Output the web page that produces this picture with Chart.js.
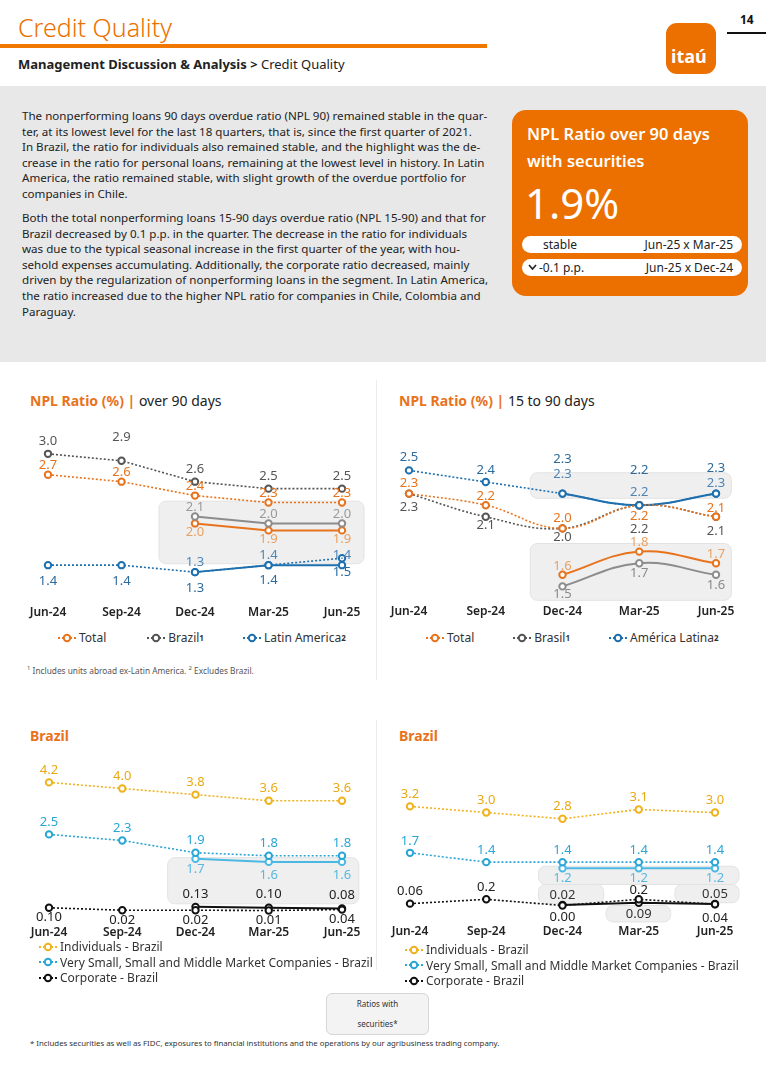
<!DOCTYPE html>
<html>
<head>
<meta charset="utf-8">
<script src="https://cdn.jsdelivr.net/npm/chart.js@4.4.1/dist/chart.umd.min.js"></script>
<style>
  body { margin: 0; width: 766px; height: 1083px; position: relative; background: #fff; font-family: "Noto Sans", sans-serif; overflow: hidden; color: #222; }
  .abs { position: absolute; white-space: nowrap; }
  canvas.chart { position: absolute; }
  .band { position: absolute; left: 0; top: 86px; width: 766px; height: 276px; background: #e8e8e8; }
  .para { position: absolute; left: 22px; font-size: 11.6px; line-height: 15.6px; color: #222; white-space: nowrap; }
  .kpi { position: absolute; left: 512px; top: 110px; width: 236px; height: 186px; background: #ec7000; border-radius: 14px; color: #fff; }
  .pill { position: absolute; left: 10px; width: 220px; height: 17px; background: #fff; border-radius: 9px; color: #222; font-size: 12px; line-height: 17px; }
  .ctitle { position: absolute; font-size: 14px; white-space: nowrap; }
  .ctitle b { color: #e8731d; font-weight: 700; }
  .legend { position: absolute; font-size: 12px; color: #333; white-space: nowrap; }
  .legend span { display: inline-flex; align-items: center; }
  .legend svg { margin-right: 2px; }
  .legend sup { font-size: 8px; font-weight: 700; vertical-align: 4px; }
  .vsep { position: absolute; left: 376px; width: 1px; background: #ececec; }
</style>
</head>
<body>
<!-- header -->
<div class="abs" style="left:18px;top:10px;font-size:25px;font-weight:300;color:#ec7000;">Credit Quality</div>
<div class="abs" style="left:0;top:44px;width:487px;height:4px;background:#f07800;"></div>
<div class="abs" style="left:18px;top:55px;font-size:13px;color:#222;"><b>Management Discussion &amp; Analysis &gt;</b> Credit Quality</div>
<div class="abs" style="left:666px;top:23px;width:50px;height:51px;background:#ec7000;border-radius:11px;"></div>
<div class="abs" style="left:671px;top:44px;font-size:18px;font-weight:700;color:#fff;">itaú</div>
<div class="abs" style="left:740px;top:11px;font-size:12px;font-weight:700;color:#111;">14</div>
<div class="abs" style="left:727px;top:32px;width:39px;height:2px;background:#111;"></div>

<!-- text band -->
<div class="band"></div>
<div class="para" style="top:108px;">The nonperforming loans 90 days overdue ratio (NPL 90) remained stable in the quar-<br>ter, at its lowest level for the last 18 quarters, that is, since the first quarter of 2021.<br>In Brazil, the ratio for individuals also remained stable, and the highlight was the de-<br>crease in the ratio for personal loans, remaining at the lowest level in history. In Latin<br>America, the ratio remained stable, with slight growth of the overdue portfolio for<br>companies in Chile.</div>
<div class="para" style="top:210px;">Both the total nonperforming loans 15-90 days overdue ratio (NPL 15-90) and that for<br>Brazil decreased by 0.1 p.p. in the quarter. The decrease in the ratio for individuals<br>was due to the typical seasonal increase in the first quarter of the year, with hou-<br>sehold expenses accumulating. Additionally, the corporate ratio decreased, mainly<br>driven by the regularization of nonperforming loans in the segment. In Latin America,<br>the ratio increased due to the higher NPL ratio for companies in Chile, Colombia and<br>Paraguay.</div>

<div class="kpi">
  <div class="abs" style="left:15px;top:10px;font-size:16.5px;font-weight:600;line-height:27px;">NPL Ratio over 90 days<br>with securities</div>
  <div class="abs" style="left:13px;top:64px;font-size:42px;font-weight:400;">1.9%</div>
  <div class="pill" style="top:126px;"><span class="abs" style="left:21px;">stable</span><span class="abs" style="right:9px;">Jun-25 x Mar-25</span></div>
  <div class="pill" style="top:149px;"><svg class="abs" style="left:6px;top:5px;" width="9" height="7"><polyline points="1,1 4.5,5 8,1" fill="none" stroke="#222" stroke-width="1.6"/></svg><span class="abs" style="left:17px;">-0.1 p.p.</span><span class="abs" style="right:9px;">Jun-25 x Dec-24</span></div>
</div>

<!-- chart titles -->
<div class="ctitle" style="left:30px;top:391px;"><b>NPL Ratio (%) |</b> over 90 days</div>
<div class="ctitle" style="left:399px;top:391px;"><b>NPL Ratio (%) |</b> 15 to 90 days</div>
<div class="ctitle" style="left:30px;top:726px;"><b>Brazil</b></div>
<div class="ctitle" style="left:399px;top:726px;"><b>Brazil</b></div>
<div class="vsep" style="top:380px;height:300px;"></div>
<div class="vsep" style="top:720px;height:250px;"></div>

<canvas class="chart" id="c90" width="383" height="205" style="left:0;top:420px;"></canvas>
<canvas class="chart" id="c15" width="383" height="206" style="left:383px;top:418px;"></canvas>
<canvas class="chart" id="b90" width="383" height="190" style="left:0;top:755px;"></canvas>
<canvas class="chart" id="b15" width="383" height="187" style="left:383px;top:757px;"></canvas>

<div class="legend" id="lg90" style="left:57px;top:629px;"></div>
<div class="legend" id="lg15" style="left:425px;top:629px;"></div>
<div class="legend" id="lgb90" style="left:38px;top:939px;line-height:15px;"></div>
<div class="legend" id="lgb15" style="left:404px;top:942px;line-height:15px;"></div>

<div class="abs" style="left:27px;top:664px;font-size:8.3px;color:#555;"><sup style="font-size:6px;">1</sup> Includes units abroad ex-Latin America. <sup style="font-size:6px;">2</sup> Excludes Brazil.</div>

<div class="abs" style="left:326px;top:993px;width:101px;height:40px;border:1px solid #d6d6d6;border-radius:6px;background:#f3f3f3;font-size:8px;text-align:center;line-height:20px;color:#333;">Ratios with<br>securities*</div>
<div class="abs" style="left:30px;top:1038px;font-size:7.8px;color:#333;">* Includes securities as well as FIDC, exposures to financial institutions and the operations by our agribusiness trading company.</div>

<script>
// categories
var quarters = ["Jun-24", "Sep-24", "Dec-24", "Mar-25", "Jun-25"];

// NPL ratio over 90 days (%)
var npl90Total = [2.7, 2.6, 2.4, 2.3, 2.3];
var npl90Brazil = [3.0, 2.9, 2.6, 2.5, 2.5];
var npl90Latam = [1.4, 1.4, 1.3, 1.4, 1.5];
var npl90TotalSec = [null, null, 2.0, 1.9, 1.9];
var npl90BrazilSec = [null, null, 2.1, 2.0, 2.0];
var npl90LatamSec = [null, null, 1.3, 1.4, 1.4];

// NPL ratio 15 to 90 days (%)
var npl15Total = [2.3, 2.2, 2.0, 2.2, 2.1];
var npl15Brasil = [2.3, 2.1, 2.0, 2.2, 2.1];
var npl15Latam = [2.5, 2.4, 2.3, 2.2, 2.3];
var npl15TotalSec = [null, null, 1.6, 1.8, 1.7];
var npl15BrasilSec = [null, null, 1.5, 1.7, 1.6];
var npl15LatamSec = [null, null, 2.3, 2.2, 2.3];

// Brazil over 90 days (%)
var br90Individuals = [4.2, 4.0, 3.8, 3.6, 3.6];
var br90Smb = [2.5, 2.3, 1.9, 1.8, 1.8];
var br90Corporate = [0.10, 0.02, 0.02, 0.01, 0.04];
var br90SmbSec = [null, null, 1.7, 1.6, 1.6];
var br90CorporateSec = [null, null, 0.13, 0.10, 0.08];

// Brazil 15 to 90 days (%)
var br15Individuals = [3.2, 3.0, 2.8, 3.1, 3.0];
var br15Smb = [1.7, 1.4, 1.4, 1.4, 1.4];
var br15Corporate = [0.06, 0.2, 0.00, 0.2, 0.04];
var br15CorporateDigits = [2, 1, 2, 1, 2];
var br15SmbSec = [null, null, 1.2, 1.2, 1.2];
var br15CorporateSec = [null, null, 0.02, 0.09, 0.05];

var ORANGE = "#e8731d", GREY = "#555555", LGREY = "#8c8c8c", BLUE = "#1d6fae";
var YELLOW = "#f0b21c", CYAN = "#2aa6d5", LCYAN = "#4cb9e4", BLACK = "#111111";

function line(data, color, dotted, labelColor, dy, digits, tension) {
  return {
    data: data,
    borderColor: color,
    borderWidth: dotted ? 1.6 : 2,
    borderDash: dotted ? [2, 2] : [],
    pointRadius: 3.2,
    pointBorderWidth: 2,
    pointBackgroundColor: "#fff",
    pointBorderColor: color,
    tension: tension || 0,
    spanGaps: false,
    labelColor: labelColor,
    labelDy: dy,
    digits: digits
  };
}

// value labels next to each point
var valueLabels = {
  id: "valueLabels",
  afterDatasetsDraw: function (chart) {
    var ctx = chart.ctx;
    ctx.save();
    ctx.font = "13px 'Noto Sans'";
    ctx.textAlign = "center";
    ctx.textBaseline = "middle";
    chart.data.datasets.forEach(function (d, i) {
      var meta = chart.getDatasetMeta(i);
      meta.data.forEach(function (pt, j) {
        var v = d.data[j];
        if (v === null) return;
        var dy = Array.isArray(d.labelDy) ? d.labelDy[j] : d.labelDy;
        var dg = Array.isArray(d.digits) ? d.digits[j] : d.digits;
        ctx.fillStyle = d.labelColor;
        ctx.fillText(v.toFixed(dg), pt.x, pt.y + dy);
      });
    });
    ctx.restore();
  }
};

// grey "with securities" panels, given in scale units
var greyBoxes = {
  id: "greyBoxes",
  beforeDatasetsDraw: function (chart, args, opts) {
    var ctx = chart.ctx, xs = chart.scales.x, ys = chart.scales.y;
    (opts.list || []).forEach(function (b) {
      var x0 = xs.getPixelForValue(b[0]), x1 = xs.getPixelForValue(b[1]);
      var y0 = ys.getPixelForValue(b[2]), y1 = ys.getPixelForValue(b[3]);
      ctx.save();
      ctx.beginPath();
      ctx.roundRect(x0, y0, x1 - x0, y1 - y0, 7);
      ctx.fillStyle = "#efefef";
      ctx.fill();
      ctx.strokeStyle = "#e3e3e3";
      ctx.lineWidth = 1;
      ctx.stroke();
      ctx.restore();
    });
  }
};

function makeChart(id, datasets, yMin, yMax, pad, tickPad, boxes) {
  return new Chart(document.getElementById(id), {
    type: "line",
    data: { labels: quarters, datasets: datasets },
    options: {
      responsive: false,
      animation: false,
      layout: { padding: { left: pad[0], right: pad[1], top: 0, bottom: 0 } },
      plugins: { legend: { display: false }, tooltip: { enabled: false }, greyBoxes: { list: boxes } },
      scales: {
        x: {
          offset: false,
          grid: { display: false, drawTicks: false },
          border: { display: false },
          ticks: { color: "#222", font: { family: "Noto Sans", size: 12, weight: "600" }, padding: tickPad, maxRotation: 0, autoSkip: false },
          afterFit: function (a) { a.height = tickPad + 20; }
        },
        y: { display: false, min: yMin, max: yMax }
      }
    },
    plugins: [greyBoxes, valueLabels]
  });
}

makeChart("c90", [
  line(npl90Brazil, GREY, true, GREY, [-13, -23, -12, -12, -12], 1),
  line(npl90Total, ORANGE, true, ORANGE, -9, 1),
  line(npl90Latam, BLUE, true, "#2c6a9c", [16, 16, 16, 15, 14], 1),
  line(npl90BrazilSec, LGREY, false, "#9a9a9a", -9, 1),
  line(npl90TotalSec, ORANGE, false, "#e9a062", 9, 1),
  line(npl90LatamSec, BLUE, false, "#4f86b5", -10, 1)
], 1.0, 3.4, [48, 41], 12, [[1.51, 4.3, 2.32, 1.42]]);

makeChart("c15", [
  line(npl15Latam, BLUE, true, "#2c6a9c", [-13, -12, -34, -35, -25], 1, 0.4),
  line(npl15Total, ORANGE, true, ORANGE, [-10, -9, -10, 11, -9], 1, 0.4),
  line(npl15Brasil, GREY, true, GREY, [14, 8, 9, 24, 14], 1, 0.4),
  line(npl15LatamSec, BLUE, false, "#4f86b5", [0, 0, -19, -13, -10], 1, 0.4),
  line(npl15TotalSec, ORANGE, false, "#e9a062", -9, 1, 0.4),
  line(npl15BrasilSec, LGREY, false, "#8a8a8a", [0, 0, 8, 10, 10], 1, 0.4)
], 1.4, 2.9, [26, 50], 6, [[1.58, 4.2, 2.48, 2.26], [1.58, 4.2, 1.87, 1.38]]);

makeChart("b90", [
  line(br90Individuals, YELLOW, true, "#e9a915", -12, 1),
  line(br90Smb, CYAN, true, CYAN, -12, 1),
  line(br90Corporate, BLACK, true, "#222", 10, 2),
  line(br90SmbSec, LCYAN, false, "#5ab8e0", [0, 0, 10, 13, 13], 1),
  line(br90CorporateSec, BLACK, false, "#222", -13, 2)
], -0.3, 4.9, [49, 41], 5, [[1.62, 4.23, 1.74, 0.23]]);

makeChart("b15", [
  line(br15Individuals, YELLOW, true, "#e9a915", -12, 1),
  line(br15Smb, CYAN, true, CYAN, -12, 1),
  line(br15Corporate, BLACK, true, "#222", [-12, -12, 12, -9, 14], br15CorporateDigits),
  line(br15SmbSec, LCYAN, false, "#5ab8e0", 10, 1),
  line(br15CorporateSec, BLACK, false, "#333", [0, 0, -10, 12, -10], 2)
], -0.5, 4.6, [27, 51], 3, [[1.685, 4.315, 1.27, 0.68], [1.685, 2.54, 0.68, 0.06], [2.57, 3.42, 0.0, -0.53], [3.475, 4.315, 0.68, 0.09]]);

// HTML legends
function marker(color) {
  return '<svg width="20" height="10"><line x1="1" y1="5" x2="19" y2="5" stroke="' + color +
    '" stroke-width="2" stroke-dasharray="2 2"/><circle cx="10" cy="5" r="3.2" fill="#fff" stroke="' + color + '" stroke-width="2"/></svg>';
}
function legend(id, items, gaps) {
  var html = "";
  items.forEach(function (it, i) {
    html += '<span style="margin-right:' + (gaps ? gaps[i] : 0) + 'px">' + marker(it[1]) + it[0] + "</span>";
    if (!gaps) html += "<br>";
  });
  document.getElementById(id).innerHTML = html;
}
legend("lg90", [["Total", ORANGE], ["Brazil<sup>1</sup>", GREY], ["Latin America<sup>2</sup>", BLUE]], [40, 38, 0]);
legend("lg15", [["Total", ORANGE], ["Brasil<sup>1</sup>", GREY], ["América Latina<sup>2</sup>", BLUE]], [38, 38, 0]);
legend("lgb90", [["Individuals - Brazil", YELLOW], ["Very Small, Small and Middle Market Companies - Brazil", CYAN], ["Corporate - Brazil", BLACK]]);
legend("lgb15", [["Individuals - Brazil", YELLOW], ["Very Small, Small and Middle Market Companies - Brazil", CYAN], ["Corporate - Brazil", BLACK]]);
</script>
</body>
</html>
